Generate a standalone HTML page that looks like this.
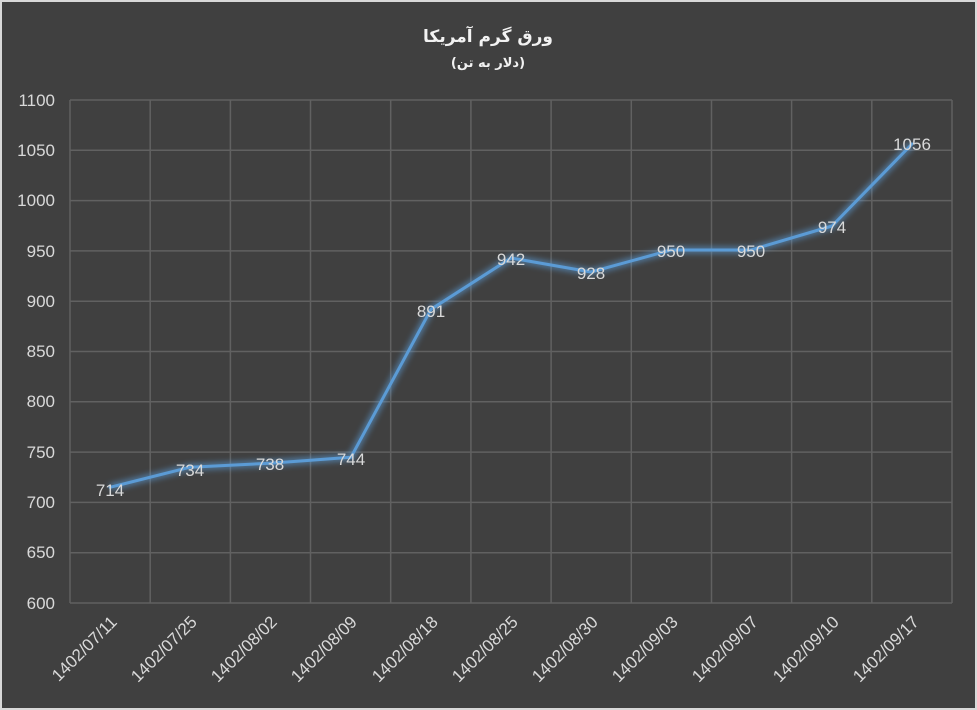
<!DOCTYPE html>
<html><head><meta charset="utf-8"><style>
html,body{margin:0;padding:0;background:#404040;}
svg{display:block;}
</style></head><body>
<svg width="977" height="710" xmlns="http://www.w3.org/2000/svg">
<defs><filter id="g" x="-10%" y="-10%" width="120%" height="120%"><feGaussianBlur stdDeviation="3"/></filter></defs>
<rect x="1" y="1" width="975" height="708" fill="#404040" stroke="#d9d9d9" stroke-width="2"/>
<text x="488" y="42" text-anchor="middle" fill="#f2f2f2" font-family="'DejaVu Sans',sans-serif" font-weight="bold" font-size="17">ورق گرم آمریکا</text>
<text x="488" y="67" text-anchor="middle" fill="#f2f2f2" font-family="'DejaVu Sans',sans-serif" font-weight="bold" font-size="13">(دلار به تن)</text>
<g stroke="#616161" stroke-width="1.5">
<line x1="70" y1="100" x2="952" y2="100"/><line x1="70" y1="150.3" x2="952" y2="150.3"/><line x1="70" y1="200.6" x2="952" y2="200.6"/><line x1="70" y1="250.9" x2="952" y2="250.9"/><line x1="70" y1="301.2" x2="952" y2="301.2"/><line x1="70" y1="351.5" x2="952" y2="351.5"/><line x1="70" y1="401.8" x2="952" y2="401.8"/><line x1="70" y1="452.1" x2="952" y2="452.1"/><line x1="70" y1="502.4" x2="952" y2="502.4"/><line x1="70" y1="552.7" x2="952" y2="552.7"/><line x1="70" y1="603" x2="952" y2="603"/>
<line x1="70" y1="100" x2="70" y2="603"/><line x1="150.2" y1="100" x2="150.2" y2="603"/><line x1="230.4" y1="100" x2="230.4" y2="603"/><line x1="310.5" y1="100" x2="310.5" y2="603"/><line x1="390.7" y1="100" x2="390.7" y2="603"/><line x1="470.9" y1="100" x2="470.9" y2="603"/><line x1="551.1" y1="100" x2="551.1" y2="603"/><line x1="631.3" y1="100" x2="631.3" y2="603"/><line x1="711.5" y1="100" x2="711.5" y2="603"/><line x1="791.6" y1="100" x2="791.6" y2="603"/><line x1="871.8" y1="100" x2="871.8" y2="603"/><line x1="952" y1="100" x2="952" y2="603"/>
</g>
<g fill="#d9d9d9" font-family="'Liberation Sans',sans-serif" font-size="17" text-anchor="end">
<text x="55" y="106">1100</text><text x="55" y="156">1050</text><text x="55" y="206">1000</text><text x="55" y="257">950</text><text x="55" y="307">900</text><text x="55" y="357">850</text><text x="55" y="407">800</text><text x="55" y="458">750</text><text x="55" y="508">700</text><text x="55" y="558">650</text><text x="55" y="609">600</text>
</g>
<g fill="#d9d9d9" font-family="'Liberation Sans',sans-serif" font-size="17" text-anchor="end">
<text transform="translate(118,623) rotate(-45)">1402/07/11</text>
<text transform="translate(198,623) rotate(-45)">1402/07/25</text>
<text transform="translate(278,623) rotate(-45)">1402/08/02</text>
<text transform="translate(358,623) rotate(-45)">1402/08/09</text>
<text transform="translate(439,623) rotate(-45)">1402/08/18</text>
<text transform="translate(519,623) rotate(-45)">1402/08/25</text>
<text transform="translate(599,623) rotate(-45)">1402/08/30</text>
<text transform="translate(679,623) rotate(-45)">1402/09/03</text>
<text transform="translate(759,623) rotate(-45)">1402/09/07</text>
<text transform="translate(840,623) rotate(-45)">1402/09/10</text>
<text transform="translate(920,623) rotate(-45)">1402/09/17</text>
</g>
<polyline fill="none" stroke="#5b9bd5" stroke-opacity="0.6" stroke-width="7" filter="url(#g)" points="110,487.3 190,467.2 270,463.2 351,457.2 431,309.3 511,258 591,272 671,250 751,250 832,226 912,144"/>
<polyline fill="none" stroke="#5b9bd5" stroke-width="3" stroke-linejoin="round" stroke-linecap="round" points="110,487.3 190,467.2 270,463.2 351,457.2 431,309.3 511,258 591,272 671,250 751,250 832,226 912,144"/>
<g fill="#d9d9d9" font-family="'Liberation Sans',sans-serif" font-size="17" text-anchor="middle">
<text x="110" y="496">714</text><text x="190" y="476">734</text><text x="270" y="470">738</text><text x="351" y="465">744</text><text x="431" y="317">891</text><text x="511" y="265">942</text><text x="591" y="279">928</text><text x="671" y="257">950</text><text x="751" y="257">950</text><text x="832" y="233">974</text><text x="912" y="150">1056</text>
</g>
</svg>
</body></html>
